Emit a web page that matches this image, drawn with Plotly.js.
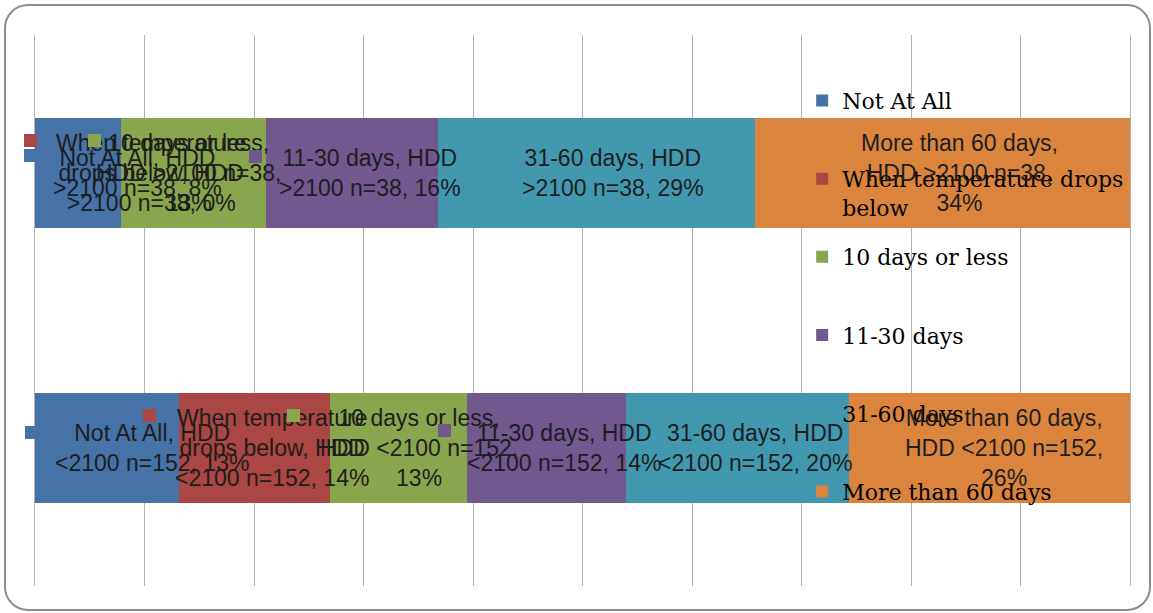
<!DOCTYPE html>
<html>
<head>
<meta charset="utf-8">
<script src="https://cdn.plot.ly/plotly-3.0.1.min.js"></script>
<style>
  html, body { margin: 0; padding: 0; background: #ffffff; }
  #wrap { position: relative; width: 1153px; height: 613px; overflow: hidden; }
  #chart { width: 1153px; height: 613px; }
  #frame { position: absolute; left: 4px; top: 4px; width: 1143px; height: 603px;
           border: 2.5px solid #8c8c8c; border-radius: 24px; pointer-events: none; }
</style>
</head>
<body>
<div id="wrap"><div id="chart"></div><div id="frame"></div></div>
<script>
// ---- data (percent of respondents) ----
const categories = ['HDD <2100 n=152', 'HDD >2100 n=38'];
const seriesNames = ['Not At All', 'When temperature drops below', '10 days or less',
                     '11-30 days', '31-60 days', 'More than 60 days'];
const notAtAll      = [13.16, 7.89];
const whenTempDrops = [13.82, 0];
const tenDaysOrLess = [12.50, 13.16];
const days11to30    = [14.47, 15.79];
const days31to60    = [20.39, 28.95];
const moreThan60    = [25.66, 34.21];
const seriesValues = [notAtAll, whenTempDrops, tenDaysOrLess, days11to30, days31to60, moreThan60];

// ---- style ----
const colors = ['#4572A7', '#AA4643', '#89A54E', '#71588F', '#4198AF', '#DB843D'];
// how each series' data label wraps (Excel-like)
const wrapStyle = ['A', 'B', 'C', 'A', 'A', 'C'];
// label pixel shifts [bottom bar, top bar]
const labelShift = [[45, 59], [17, 30], [20, -5], [17, 18], [18, 16], [14, 17]];
// legend-key squares inside labels: [dx, dy] from label anchor, null = none
const keyOffset = [
  [[-121, 16], [-107, 17]],
  [[-122, 33], [-121, 32]],
  [[-125, 33], [-94, 32]],
  [[-119, 18], [-114, 16]],
  [null, null],
  [null, null]
];

function esc(s) { return s.replace(/</g, '&lt;').replace(/>/g, '&gt;'); }

function labelText(si, ci) {
  const cat = categories[ci];               // e.g. 'HDD >2100 n=38'
  const rest = cat.replace(/^HDD\s*/, '');  // '>2100 n=38'
  const pct = Math.round(seriesValues[si][ci]) + '%';
  const name = seriesNames[si];
  let lines;
  if (wrapStyle[si] === 'A') {
    lines = [name + ', HDD', rest + ', ' + pct];
  } else if (wrapStyle[si] === 'B') {
    const w = name.split(' ');
    lines = [w.slice(0, 2).join(' '), w.slice(2).join(' ') + ', HDD', rest + ', ' + pct];
  } else {
    lines = [name + ',', 'HDD ' + rest + ',', pct];
  }
  return lines.map(esc).join('<br>');
}

const legendNames = ['Not At All<br> ', 'When temperature drops<br>below', '10 days or less<br> ',
                     '11-30 days<br> ', '31-60 days<br> ', 'More than 60 days<br> '];

const traces = seriesValues.map((vals, si) => ({
  type: 'bar',
  orientation: 'h',
  name: legendNames[si],
  legendgroup: 'g' + si,
  y: categories,
  x: vals,
  marker: { color: colors[si], line: { width: 0 } },
  hoverinfo: 'skip'
}));

const annotations = [];
for (let ci = 0; ci < categories.length; ci++) {
  let cum = 0;
  for (let si = 0; si < seriesValues.length; si++) {
    const v = seriesValues[si][ci];
    const mid = cum + v / 2;
    cum += v;
    const sh = labelShift[si][ci];
    annotations.push({
      x: mid, y: categories[ci], xref: 'x', yref: 'y',
      text: labelText(si, ci), showarrow: false,
      xshift: sh, yshift: 0, align: 'center',
      xanchor: 'center', yanchor: 'middle',
      font: { family: 'Liberation Sans, Arial, sans-serif', size: 23, color: '#1e1e1e' }
    });
    const ko = keyOffset[si][ci];
    if (ko) {
      annotations.push({
        x: mid, y: categories[ci], xref: 'x', yref: 'y',
        text: ' ', showarrow: false,
        xshift: sh + ko[0], yshift: ko[1],
        xanchor: 'center', yanchor: 'middle',
        width: 13, height: 13, borderpad: 0, borderwidth: 0,
        bgcolor: colors[si], font: { size: 2, color: colors[si] }
      });
    }
  }
}

const layout = {
  width: 1153, height: 613,
  margin: { l: 35, r: 23, t: 35, b: 27, pad: 0 },
  paper_bgcolor: '#ffffff', plot_bgcolor: '#ffffff',
  barmode: 'stack',
  bargap: 0.6,
  showlegend: true,
  legend: {
    x: 0.7006, xanchor: 'left', y: 0.919, yanchor: 'top',
    bgcolor: 'rgba(0,0,0,0)', borderwidth: 0,
    traceorder: 'grouped', tracegroupgap: 18, valign: 'top',
    font: { family: 'DejaVu Serif, serif', size: 22, color: '#000000' }
  },
  xaxis: {
    range: [0, 100], dtick: 10, tick0: 0,
    showgrid: true, gridcolor: '#b3b3b3', gridwidth: 1,
    zeroline: false, showline: false, showticklabels: false, ticks: '', fixedrange: true
  },
  yaxis: {
    type: 'category', range: [-0.5, 1.5],
    showgrid: false, zeroline: false, showticklabels: false, ticks: '',
    showline: true, mirror: true, linecolor: '#b3b3b3', linewidth: 1, fixedrange: true
  },
  annotations: annotations
};

Plotly.newPlot('chart', traces, layout, { staticPlot: true, displayModeBar: false });
</script>
</body>
</html>
